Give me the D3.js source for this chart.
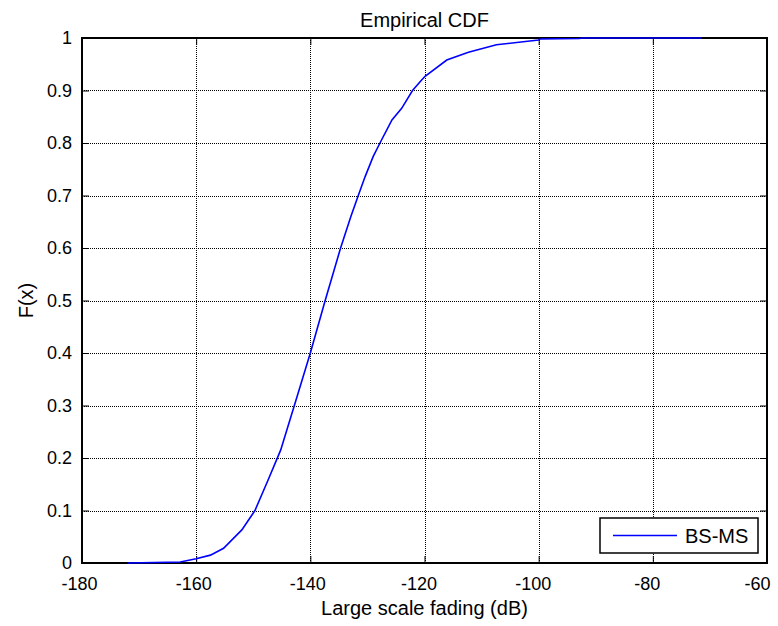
<!doctype html>
<html lang="en">
<head>
  <meta charset="UTF-8">
  <title>Empirical CDF</title>
  <script src="https://cdn.jsdelivr.net/npm/d3@7/dist/d3.min.js"></script>
  <style>
    body{ margin:0; background:#fff; }
    .chart svg{ display:block; font-family:"Liberation Sans", Arial, sans-serif; }
    .grid line{ stroke:#000; stroke-width:1; stroke-dasharray:1,1; shape-rendering:crispEdges; }
  </style>
</head>
<body>
  <div class="chart"></div>
  <script>
    // values (x in dB, F(x))
    const xVals = [-172, -162.8, -160, -157.5, -155.2, -152, -149.7, -147.4, -145.2, -142.8, -140, -137.4,
      -134.7, -132.9, -131.6, -130.4, -129, -127.8, -125.7, -124, -122.1, -120.5, -119.9, -116.1, -112.3,
      -107.4, -102.7, -100, -99.8, -92.8, -92.5, -71.5];
    const fVals = [0, 0.002, 0.008, 0.015, 0.028, 0.063, 0.1, 0.158, 0.215, 0.3, 0.4, 0.5,
      0.6, 0.66, 0.7, 0.736, 0.774, 0.8, 0.844, 0.866, 0.9, 0.92, 0.927, 0.958, 0.973,
      0.987, 0.993, 0.996, 0.998, 0.999, 1, 1];
    const xTicks = [-180, -160, -140, -120, -100, -80, -60];
    const yTicks = [0, 0.1, 0.2, 0.3, 0.4, 0.5, 0.6, 0.7, 0.8, 0.9, 1];
    const seriesName = 'BS-MS';

    const bxSize = {w:778, h:626};
    const margin = {top:38, right:11, bottom:63, left:82};
    const [width, height] = [bxSize.w - margin.left - margin.right, bxSize.h - margin.top - margin.bottom];

    const root = d3.select('.chart').append('svg').attr('width', bxSize.w).attr('height', bxSize.h);
    const svg = root.append('g').attr('transform', `translate(${margin.left} ${margin.top})`);

    const xScale = d3.scaleLinear().domain([-180, -60]).range([0, width]);
    const yScale = d3.scaleLinear().domain([0, 1]).range([height, 0]);

    // grid
    const grid = svg.append('g').attr('class', 'grid');
    grid.selectAll('line.gx').data(xTicks.slice(1, -1)).enter().append('line')
      .attr('x1', d => Math.round(xScale(d)) + 0.5).attr('x2', d => Math.round(xScale(d)) + 0.5)
      .attr('y1', 0).attr('y2', height);
    grid.selectAll('line.gy').data(yTicks.slice(1, -1)).enter().append('line')
      .attr('y1', d => Math.round(yScale(d)) + 0.5).attr('y2', d => Math.round(yScale(d)) + 0.5)
      .attr('x1', 0).attr('x2', width);

    // axes (plain hyphen minus like the original)
    const fmtY = d => d === 0 || d === 1 ? String(d) : d.toFixed(1);
    const xAxis = svg.append('g').attr('transform', `translate(0, ${height})`)
      .call(d3.axisBottom(xScale).tickValues(xTicks).tickSize(-7).tickPadding(14).tickFormat(d => String(d)));
    const yAxis = svg.append('g')
      .call(d3.axisLeft(yScale).tickValues(yTicks).tickSize(-7).tickPadding(10).tickFormat(fmtY));
    svg.append('g').call(d3.axisTop(xScale).tickValues(xTicks).tickSize(-7).tickFormat(''));
    svg.append('g').attr('transform', `translate(${width}, 0)`)
      .call(d3.axisRight(yScale).tickValues(yTicks).tickSize(-7).tickFormat(''));
    svg.selectAll('.domain').remove();
    svg.selectAll('.tick line').attr('stroke', '#000').attr('stroke-width', 1);
    svg.selectAll('.tick text').attr('fill', '#000').style('font-size', '18px');
    // the exported labels sit a little left of their ticks; the last one is pulled in to stay on the page
    const labelShift = {'-180': -3, '-160': -3, '-140': -3, '-120': -6, '-100': -6, '-80': -6, '-60': -10};
    xAxis.selectAll('.tick text').attr('dy', '0.71em').attr('dx', d => labelShift[d] || 0);

    // box
    svg.append('rect').attr('width', width).attr('height', height)
      .attr('fill', 'none').attr('stroke', '#000').attr('stroke-width', 2);

    // curve
    const pts = xVals.map((x, i) => ({x: x, f: fVals[i]}));
    const line = d3.line().x(d => xScale(d.x)).y(d => yScale(d.f));
    svg.append('path').datum(pts).attr('d', line)
      .attr('fill', 'none').attr('stroke', '#0000ff').attr('stroke-width', 1.6);

    // title and labels
    root.append('text').attr('x', margin.left + width / 2).attr('y', 27)
      .attr('text-anchor', 'middle').style('font-size', '20px').text('Empirical CDF');
    root.append('text').attr('x', margin.left + width / 2).attr('y', 615)
      .attr('text-anchor', 'middle').style('font-size', '20px').text('Large scale fading (dB)');
    root.append('text').attr('transform', `translate(33, ${margin.top + height / 2}) rotate(-90)`)
      .attr('text-anchor', 'middle').style('font-size', '20px').text('F(x)');

    // legend
    const lg = root.append('g').attr('transform', 'translate(600, 518)');
    lg.append('rect').attr('width', 158).attr('height', 35)
      .attr('fill', '#fff').attr('stroke', '#000').attr('stroke-width', 1.5);
    lg.append('line').attr('x1', 13).attr('x2', 77).attr('y1', 17.5).attr('y2', 17.5)
      .attr('stroke', '#0000ff').attr('stroke-width', 1.6);
    lg.append('text').attr('x', 85).attr('y', 24.5).style('font-size', '20px').text(seriesName);
  </script>
</body>
</html>
